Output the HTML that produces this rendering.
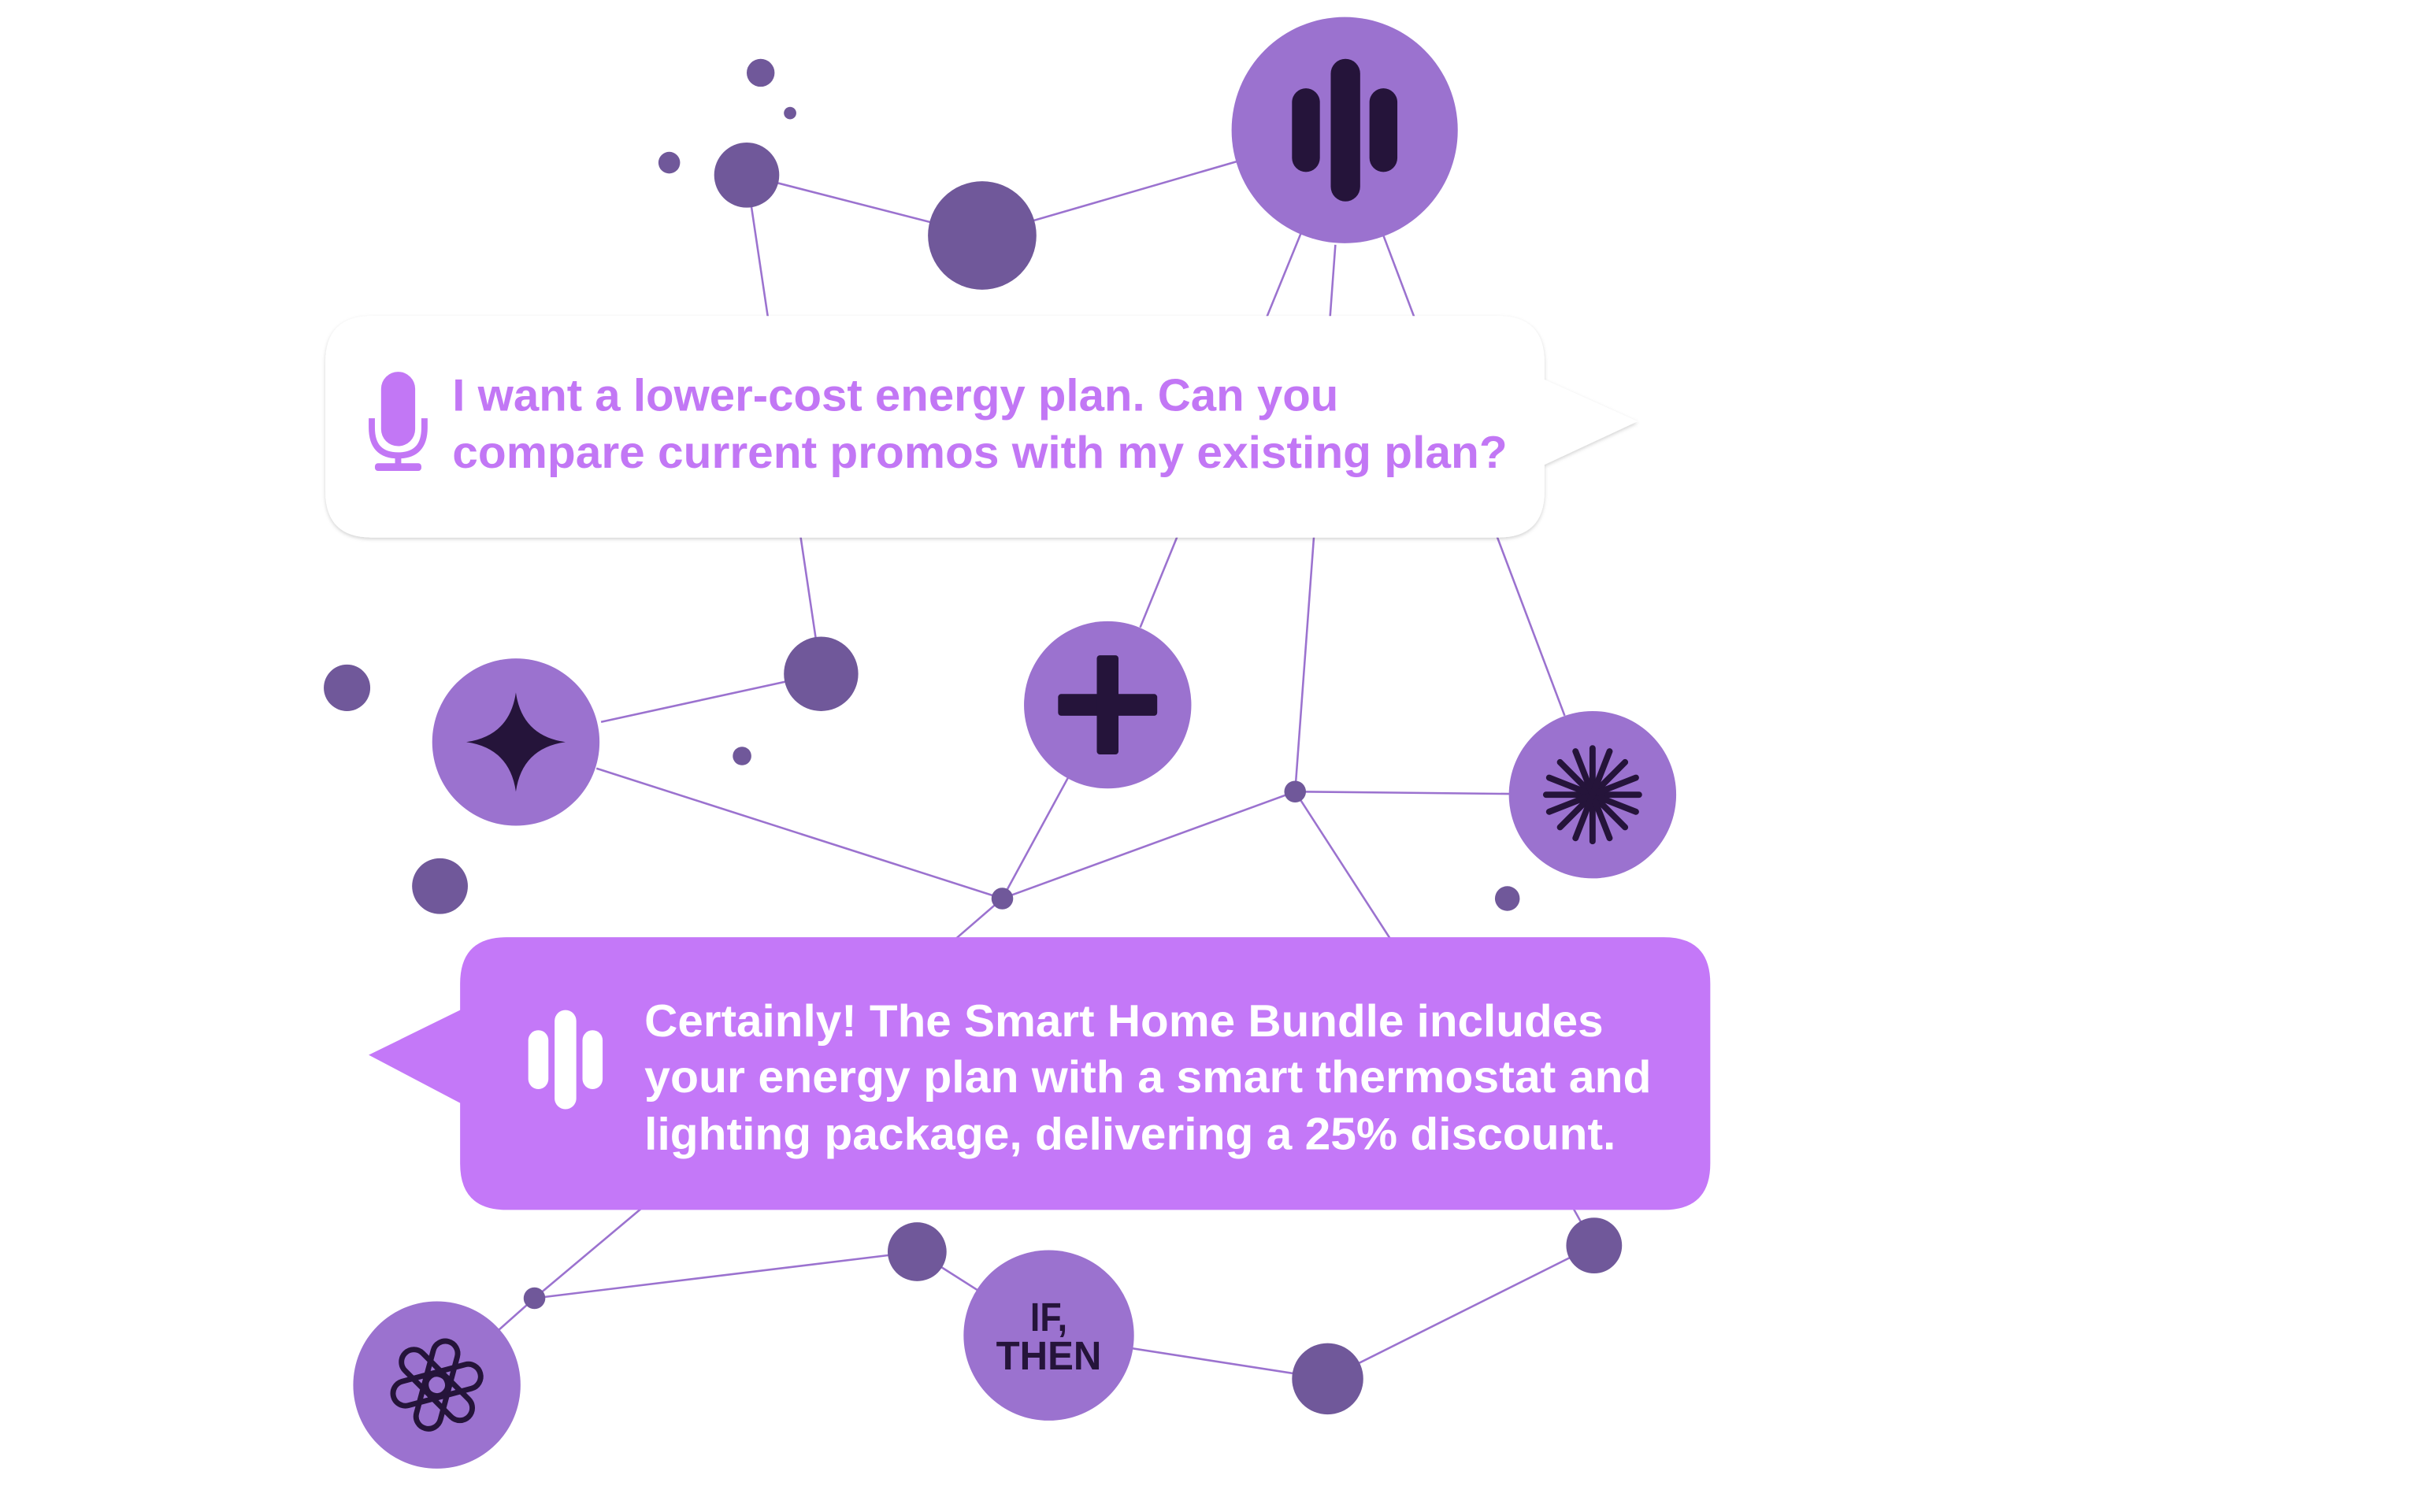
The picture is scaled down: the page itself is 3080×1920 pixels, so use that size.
<!DOCTYPE html>
<html><head><meta charset="utf-8"><style>
html,body{margin:0;padding:0;background:#fff;}
svg{display:block;}
</style></head><body>
<svg width="3080" height="1920" viewBox="0 0 1566 976" preserveAspectRatio="none" xmlns="http://www.w3.org/2000/svg">
<defs>
<filter id="sh" x="-5%" y="-10%" width="110%" height="125%"><feDropShadow dx="0" dy="1" stdDeviation="1.2" flood-color="#000" flood-opacity="0.18"/></filter>
</defs>
<g stroke="#9b72cf" stroke-width="1.3" fill="none">
<line x1="482" y1="113" x2="634" y2="152"/>
<line x1="634" y1="152" x2="868" y2="84"/>
<line x1="482" y1="113" x2="530" y2="435"/>
<line x1="840" y1="150" x2="736" y2="405"/>
<line x1="862" y1="158" x2="836" y2="511"/>
<line x1="893" y1="152" x2="1010" y2="462"/>
<line x1="388" y1="466" x2="530" y2="435"/>
<line x1="385" y1="496" x2="647" y2="580"/>
<line x1="647" y1="580" x2="715" y2="455"/>
<line x1="647" y1="580" x2="836" y2="511"/>
<line x1="836" y1="511" x2="1028" y2="513"/>
<line x1="836" y1="511" x2="900" y2="610"/>
<line x1="647" y1="580" x2="610" y2="612"/>
<line x1="345" y1="838" x2="420" y2="775"/>
<line x1="345" y1="838" x2="282" y2="894"/>
<line x1="345" y1="838" x2="592" y2="808"/>
<line x1="592" y1="808" x2="677" y2="862"/>
<line x1="677" y1="862" x2="857" y2="890"/>
<line x1="857" y1="890" x2="1029" y2="804"/>
<line x1="1029" y1="804" x2="1010" y2="770"/>
</g>
<g fill="#70589a">
<circle cx="634" cy="152" r="35"/>
<circle cx="482" cy="113" r="21"/>
<circle cx="491" cy="47" r="9"/>
<circle cx="510" cy="73" r="4"/>
<circle cx="432" cy="105" r="7"/>
<circle cx="530" cy="435" r="24"/>
<circle cx="224" cy="444" r="15"/>
<circle cx="479" cy="488" r="6"/>
<circle cx="284" cy="572" r="18"/>
<circle cx="647" cy="580" r="7"/>
<circle cx="836" cy="511" r="7"/>
<circle cx="973" cy="580" r="8"/>
<circle cx="345" cy="838" r="7"/>
<circle cx="592" cy="808" r="19"/>
<circle cx="857" cy="890" r="23"/>
<circle cx="1029" cy="804" r="18"/>
</g>
<g fill="#9b72cf">
<circle cx="868" cy="84" r="73"/>
<circle cx="333" cy="479" r="54"/>
<circle cx="715" cy="455" r="54"/>
<circle cx="1028" cy="513" r="54"/>
<circle cx="282" cy="894" r="54"/>
<circle cx="677" cy="862" r="55"/>
</g>
<g fill="#25143a">
<rect x="834" y="57" width="18" height="54" rx="9"/>
<rect x="859" y="38" width="19" height="92" rx="9.5"/>
<rect x="884" y="57" width="18" height="54" rx="9"/>
</g>
<path d="M333 447 Q337 475 365 479 Q337 483 333 511 Q329 483 301 479 Q329 475 333 447 Z" fill="#25143a"/>
<g fill="#25143a">
<rect x="683" y="448" width="64" height="14" rx="2"/>
<rect x="708" y="423" width="14" height="64" rx="2"/>
</g>
<g stroke="#25143a" stroke-width="4" stroke-linecap="round" transform="translate(1028,513)">
<line x1="-30" y1="0" x2="30" y2="0"/>
<line x1="0" y1="-30" x2="0" y2="30"/>
<line x1="-21" y1="-21" x2="21" y2="21"/>
<line x1="-21" y1="21" x2="21" y2="-21"/>
<line x1="-28" y1="-11" x2="28" y2="11"/>
<line x1="-28" y1="11" x2="28" y2="-11"/>
<line x1="-11" y1="-28" x2="11" y2="28"/>
<line x1="11" y1="-28" x2="-11" y2="28"/>
</g>
<g fill="#25143a" font-family="Liberation Sans, sans-serif" font-weight="bold" font-size="26" text-anchor="middle">
<text x="677" y="859" textLength="24" lengthAdjust="spacingAndGlyphs">IF,</text>
<text x="677" y="884" textLength="68" lengthAdjust="spacingAndGlyphs">THEN</text>
</g>
<g fill="none" stroke="#25143a" stroke-width="3.5" transform="translate(282,894)">
<rect x="-8" y="-29" width="16" height="36" rx="8" transform="rotate(15)"/>
<rect x="-8" y="-29" width="16" height="36" rx="8" transform="rotate(75)"/>
<rect x="-8" y="-29" width="16" height="36" rx="8" transform="rotate(135)"/>
<rect x="-8" y="-29" width="16" height="36" rx="8" transform="rotate(195)"/>
<rect x="-8" y="-29" width="16" height="36" rx="8" transform="rotate(255)"/>
<rect x="-8" y="-29" width="16" height="36" rx="8" transform="rotate(315)"/>
</g>
<path d="M240 204 H967 Q997 204 997 234 V245 L1057 272 L997 300 V317 Q997 347 967 347 H240 Q210 347 210 317 V234 Q210 204 240 204 Z" fill="#fff" filter="url(#sh)"/>
<g fill="#c277f5">
<rect x="246" y="240" width="22" height="48" rx="11"/>
<path d="M240 270 V276 Q240 294 257 294 Q274 294 274 276 V270" fill="none" stroke="#c277f5" stroke-width="4"/>
<rect x="255" y="293" width="4" height="9"/>
<rect x="242" y="299" width="30" height="5" rx="2"/>
</g>
<g fill="#c277f5" font-family="Liberation Sans, sans-serif" font-weight="bold" font-size="29">
<text x="292" y="265" textLength="572" lengthAdjust="spacingAndGlyphs">I want a lower-cost energy plan. Can you</text>
<text x="292" y="302" textLength="681" lengthAdjust="spacingAndGlyphs">compare current promos with my existing plan?</text>
</g>
<path d="M327 605 H1074 Q1104 605 1104 635 V751 Q1104 781 1074 781 H327 Q297 781 297 751 V712 L238 681 L297 652 V635 Q297 605 327 605 Z" fill="#c478f8"/>
<g fill="#fff">
<rect x="341" y="665" width="13" height="38" rx="6.5"/>
<rect x="358" y="652" width="14" height="64" rx="7"/>
<rect x="376" y="665" width="13" height="38" rx="6.5"/>
</g>
<g fill="#fff" font-family="Liberation Sans, sans-serif" font-weight="bold" font-size="29">
<text x="416" y="669" textLength="619" lengthAdjust="spacingAndGlyphs">Certainly! The Smart Home Bundle includes</text>
<text x="416" y="705" textLength="650" lengthAdjust="spacingAndGlyphs">your energy plan with a smart thermostat and</text>
<text x="416" y="742" textLength="627" lengthAdjust="spacingAndGlyphs">lighting package, delivering a 25% discount.</text>
</g>
</svg>
</body></html>
